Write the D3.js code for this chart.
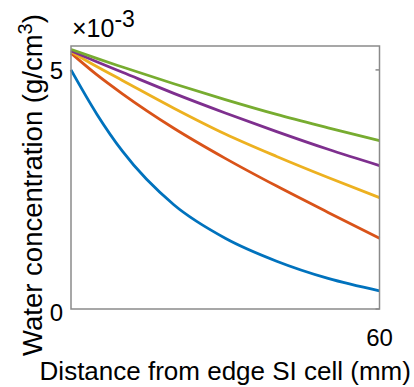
<html>
<head>
<script src="https://cdn.jsdelivr.net/npm/d3@7"></script>
<style>
  body { margin: 0; background: #fff; }
  text { font-family: "Liberation Sans", Arial, sans-serif; fill: #000; }
</style>
</head>
<body>
<svg id="chart"></svg>
<script>
const WIDTH = 414
const HEIGHT = 387

// distance (mm)
const distance = [0, 5, 10, 20, 30, 40, 50, 60]
// water concentration, in units of 1e-3 g/cm^3
const blue   = [5.00, 4.08, 3.30, 2.18, 1.48, 1.00, 0.64, 0.38]
const red    = [5.35, 4.90, 4.50, 3.78, 3.15, 2.57, 2.02, 1.48]
const yellow = [5.38, 5.07, 4.78, 4.20, 3.66, 3.19, 2.75, 2.33]
const purple = [5.40, 5.17, 4.95, 4.51, 4.10, 3.71, 3.34, 3.00]
const green  = [5.43, 5.24, 5.06, 4.71, 4.38, 4.07, 3.79, 3.52]
const seriesColors = ["#0072BD", "#D95319", "#EDB120", "#7E2F8E", "#77AC30"]
const xTicks = [60]
const yTicks = [0, 5]

const PLOT_LEFT = 71, PLOT_RIGHT = 379.5, PLOT_TOP = 46, PLOT_BOTTOM = 309

let svg = d3.select("#chart").attr("width", WIDTH).attr("height", HEIGHT)

let x = d3.scaleLinear().domain([0, 60]).range([PLOT_LEFT, PLOT_RIGHT])
let y = d3.scaleLinear().domain([0, 5.5]).range([PLOT_BOTTOM, PLOT_TOP])

let line = d3.line()
    .x((d, i) => x(distance[i]))
    .y(d => y(d))
    .curve(d3.curveMonotoneX)

svg.append("g")
    .selectAll("path")
    .data([blue, red, yellow, purple, green])
    .enter()
    .append("path")
        .attr("d", line)
        .attr("fill", "none")
        .attr("stroke", (d, i) => seriesColors[i])
        .attr("stroke-width", 2.8)

// box
svg.append("rect")
    .attr("x", PLOT_LEFT).attr("y", PLOT_TOP)
    .attr("width", PLOT_RIGHT - PLOT_LEFT).attr("height", PLOT_BOTTOM - PLOT_TOP)
    .attr("fill", "none")
    .attr("stroke", "#8a8a8a")
    .attr("stroke-width", 1.5)

// y ticks on the right side (left ones are hidden behind lines)
svg.append("g")
    .selectAll("line")
    .data(yTicks)
    .enter()
    .append("line")
        .attr("x1", PLOT_RIGHT).attr("x2", PLOT_RIGHT - 4)
        .attr("y1", d => y(d)).attr("y2", d => y(d))
        .attr("stroke", "#8a8a8a")
        .attr("stroke-width", 1.5)

svg.append("g")
    .selectAll("text")
    .data(yTicks)
    .enter()
    .append("text")
        .attr("x", PLOT_LEFT - 8)
        .attr("y", d => y(d) + (d === 0 ? 3 : 0))
        .attr("dy", "0.36em")
        .attr("text-anchor", "end")
        .attr("font-size", 24)
        .text(d => d)

svg.append("g")
    .selectAll("text")
    .data(xTicks)
    .enter()
    .append("text")
        .attr("x", d => x(d))
        .attr("y", 346)
        .attr("text-anchor", "middle")
        .attr("font-size", 24)
        .text(d => d)

// exponent label
let expo = svg.append("text")
    .attr("x", PLOT_LEFT + 1)
    .attr("y", 37)
    .attr("font-size", 25)
expo.append("tspan").text("\u00d710")
expo.append("tspan").attr("dy", -10).attr("font-size", 23).text("-3")

svg.append("text")
    .attr("x", (PLOT_LEFT + PLOT_RIGHT) / 2)
    .attr("y", 380)
    .attr("text-anchor", "middle")
    .attr("font-size", 26)
    .text("Distance from edge SI cell (mm)")

let ylab = svg.append("text")
    .attr("transform", "translate(42,185) rotate(-90)")
    .attr("text-anchor", "middle")
    .attr("font-size", 27.5)
ylab.append("tspan").text("Water concentration (g/cm")
ylab.append("tspan").attr("dy", -10).attr("font-size", 20).text("3")
ylab.append("tspan").attr("dy", 10).text(")")
</script>
</body>
</html>
